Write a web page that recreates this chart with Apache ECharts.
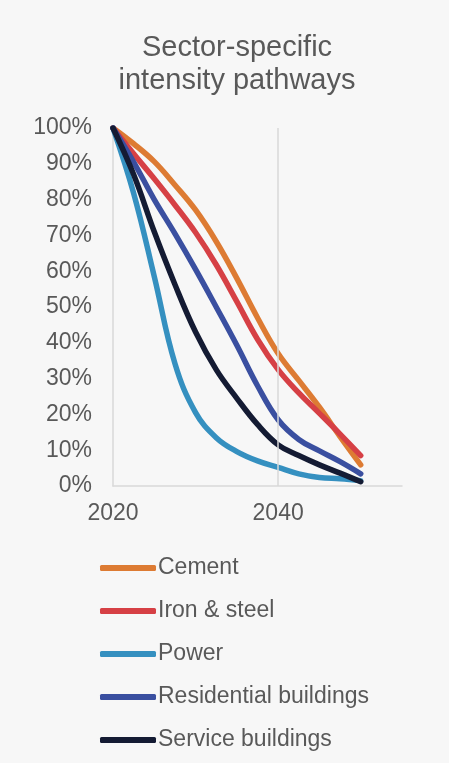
<!DOCTYPE html>
<html>
<head>
<meta charset="utf-8">
<script src="https://cdn.jsdelivr.net/npm/echarts@6/dist/echarts.min.js"></script>
<style>
html,body{margin:0;padding:0;background:#f7f7f7;}
#c{width:449px;height:763px;}
</style>
</head>
<body>
<div id="c"></div>
<script>
var years = [2020, 2022.5, 2025, 2027.5, 2030, 2032.5, 2035, 2037.5, 2040, 2042.5, 2045, 2047.5, 2050];
var seriesNames = ["Cement", "Iron & steel", "Power", "Residential buildings", "Service buildings"];
var cement      = [100, 95.6, 90.6, 84.1, 77.1, 68.3, 58.0, 47.0, 37.0, 29.5, 22.0, 13.8, 5.9];
var ironSteel   = [100, 92.8, 85.8, 78.5, 70.8, 61.8, 51.5, 41.0, 32.5, 26.0, 20.3, 14.5, 8.5];
var power       = [100, 81.8, 58.5, 34.2, 20.5, 13.5, 9.6, 7.0, 5.2, 3.4, 2.4, 2.0, 1.5];
var residential = [100, 90.5, 80.0, 70.5, 60.5, 50.0, 39.3, 28.0, 18.5, 13.0, 9.8, 6.8, 3.4];
var service     = [100, 87.0, 71.0, 56.3, 43.0, 32.5, 24.5, 17.2, 11.5, 8.5, 5.9, 3.6, 1.2];
var xTicks = [2020, 2040];
var colors = ["#dd7b33", "#d64045", "#3590c0", "#3a4fa0", "#141b33"];

var allValues = [cement, ironSteel, power, residential, service];
var FONT = "Arial, 'Liberation Sans', sans-serif";
var TXT = "#595959";

function pairs(vals) {
  return years.map(function (y, i) { return [y, vals[i]]; });
}

var series = seriesNames.map(function (name, i) {
  var s = {
    name: name,
    type: "line",
    data: pairs(allValues[i]),
    smooth: 0.4,
    showSymbol: false,
    symbol: "none",
    lineStyle: { width: 5.5, color: colors[i], cap: "round" },
    itemStyle: { color: colors[i] }
  };
  if (i === 0) {
    s.markLine = {
      silent: true,
      symbol: "none",
      label: { show: false },
      lineStyle: { color: "#d9d9d9", width: 1.5, type: "solid" },
      data: [{ xAxis: xTicks[1] }]
    };
  }
  return s;
});

var chart = echarts.init(document.getElementById("c"));
chart.setOption({
  backgroundColor: "#f7f7f7",
  animation: false,
  title: {
    text: "Sector-specific\nintensity pathways",
    left: 232,
    top: 26,
    textAlign: "center",
    textStyle: { fontFamily: FONT, fontSize: 29, fontWeight: "normal", color: TXT, lineHeight: 33 }
  },
  grid: { left: 113, right: 47, top: 128, bottom: 277, containLabel: false },
  xAxis: {
    type: "value",
    min: 2020,
    max: 2055,
    interval: 20,
    axisLine: { show: true, lineStyle: { color: "#d9d9d9", width: 1.5 } },
    axisTick: { show: false },
    splitLine: { show: false },
    axisLabel: {
      margin: 16,
      fontFamily: FONT, fontSize: 23, color: TXT,
      formatter: function (v) { return xTicks.indexOf(v) >= 0 ? String(v) : ""; }
    }
  },
  yAxis: {
    type: "value",
    min: 0,
    max: 100,
    interval: 10,
    axisLine: { show: true, lineStyle: { color: "#d9d9d9", width: 1.5 } },
    axisTick: { show: false },
    splitLine: { show: false },
    axisLabel: { margin: 21, fontFamily: FONT, fontSize: 23, color: TXT, formatter: "{value}%" }
  },
  legend: {
    orient: "vertical",
    left: 95,
    top: 551,
    icon: "roundRect",
    itemWidth: 56,
    itemHeight: 6,
    itemGap: 19,
    data: seriesNames,
    textStyle: { fontFamily: FONT, fontSize: 23, color: TXT, lineHeight: 24, padding: [0, 0, 0, -3] }
  },
  series: series
});
</script>
</body>
</html>
